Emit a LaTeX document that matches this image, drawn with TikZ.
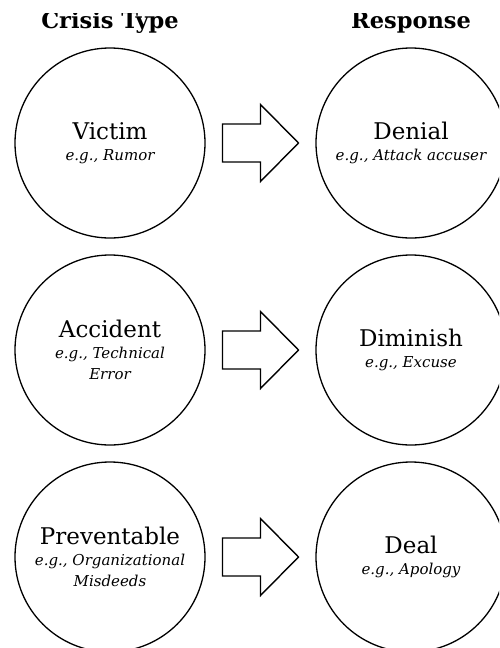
\documentclass[tikz,border=0pt]{standalone}
\usepackage{fontspec}
\setmainfont{DejaVu Serif}
\usetikzlibrary{calc}
\begin{document}
\begin{tikzpicture}[x=1pt,y=-1pt,
  stage/.style={circle,draw,line width=1.3pt,minimum size=190pt,inner sep=0pt,
    align=center,font=\fontsize{23}{21}\selectfont},
  colhead/.style={anchor=base,inner sep=0pt,font=\bfseries\fontsize{22.5}{24}\selectfont},
  blockarrow/.pic={
    \draw[line width=1.4pt,line join=miter,fill=white]
      (-38,-19) -- (0,-19) -- (0,-38.5) -- (38,0) -- (0,38.5) -- (0,19) -- (-38,19) -- cycle;
  }
]
\useasboundingbox (0,0) rectangle (499,648);
% the sheet is trimmed just above the heading line
\clip (0,13.5) rectangle (499,648);

% column headings
\node[colhead] (hcrisis) at (110,28.5) {Crisis Type};
\node[colhead] (hresp) at (411,28.5) {Response};

% crisis types
\newcommand{\eg}[1]{{\itshape\fontsize{15}{19}\selectfont #1}}
\node[stage] (victim) at (110,143) {Victim\\\eg{e.g., Rumor}};
\node[stage] (accident) at (110,350) {Accident\\\eg{e.g., Technical}\\\eg{Error}};
\node[stage] (prevent) at (110,557) {Preventable\\\eg{e.g., Organizational}\\\eg{Misdeeds}};

% responses
\node[stage] (denial) at (411,143) {Denial\\\eg{e.g., Attack accuser}};
\node[stage] (diminish) at (411,350) {Diminish\\\eg{e.g., Excuse}};
\node[stage] (deal) at (411,557) {Deal\\\eg{e.g., Apology}};

% block arrows linking each type to its response
\path ($(victim)!0.5!(denial)$) pic {blockarrow};
\path ($(accident)!0.5!(diminish)$) pic {blockarrow};
\path ($(prevent)!0.5!(deal)$) pic {blockarrow};
\end{tikzpicture}
\end{document}
